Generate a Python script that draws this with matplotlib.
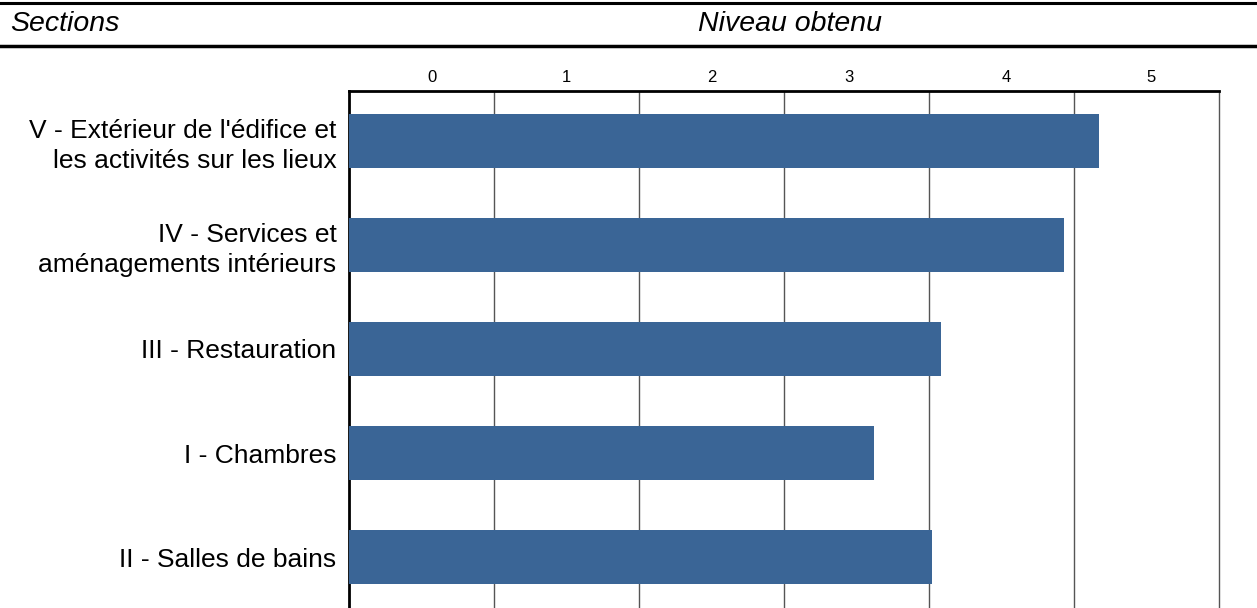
import matplotlib
matplotlib.use("Agg")
import matplotlib.pyplot as plt
from matplotlib.lines import Line2D

plt.rcParams['font.family'] = ['Liberation Sans', 'DejaVu Sans']

# Data (top to bottom)
categories = [
    "V - Extérieur de l'édifice et\nles activités sur les lieux",
    "IV - Services et\naménagements intérieurs",
    "III - Restauration",
    "I - Chambres",
    "II - Salles de bains",
]
values = [5.17, 4.93, 4.08, 3.62, 4.02]
tick_labels = ["0", "1", "2", "3", "4", "5"]
tick_label_pos = [0.57, 1.50, 2.50, 3.45, 4.53, 5.53]
grid_pos = [0, 1, 2, 3, 4, 5, 6]

bar_color = "#3A6596"

fig = plt.figure(figsize=(12.57, 6.08), dpi=100)
ax = fig.add_axes([349/1257, 0.0, (1219-349)/1257, 1 - 91/608])

y = list(range(len(categories)))
ax.barh(y, values, height=0.52, color=bar_color, zorder=3)
ax.set_xlim(0, 6)
ax.set_ylim(len(categories) - 0.51, -0.48)

# vertical grid lines
for g in grid_pos[1:-1]:
    ax.axvline(g, color="#555555", lw=1.0, zorder=1)

ax.set_yticks(y)
ax.set_yticklabels(categories, fontsize=19, ha='right', linespacing=1.3)
ax.tick_params(axis='y', length=0, pad=9)

ax.xaxis.tick_top()
ax.set_xticks(tick_label_pos)
ax.set_xticklabels(tick_labels, fontsize=12)
ax.tick_params(axis='x', length=0, pad=4)

ax.spines['left'].set_linewidth(2.0)
ax.spines['left'].set_color('black')
ax.spines['top'].set_linewidth(2.0)
ax.spines['top'].set_color('black')
ax.spines['right'].set_linewidth(1.0)
ax.spines['right'].set_color('#555555')
ax.spines['bottom'].set_visible(False)

# header
fig.add_artist(Line2D([0, 1], [1 - 3/608, 1 - 3/608], transform=fig.transFigure, color='black', lw=2.2))
fig.add_artist(Line2D([0, 1], [1 - 46/608, 1 - 46/608], transform=fig.transFigure, color='black', lw=2.5))
fig.text(10/1257, 1 - 24/608, "Sections", fontsize=20.5, style='italic', ha='left', va='center')
fig.text(790/1257, 1 - 24/608, "Niveau obtenu", fontsize=20.5, style='italic', ha='center', va='center')

fig.savefig("out.png", dpi=100)
